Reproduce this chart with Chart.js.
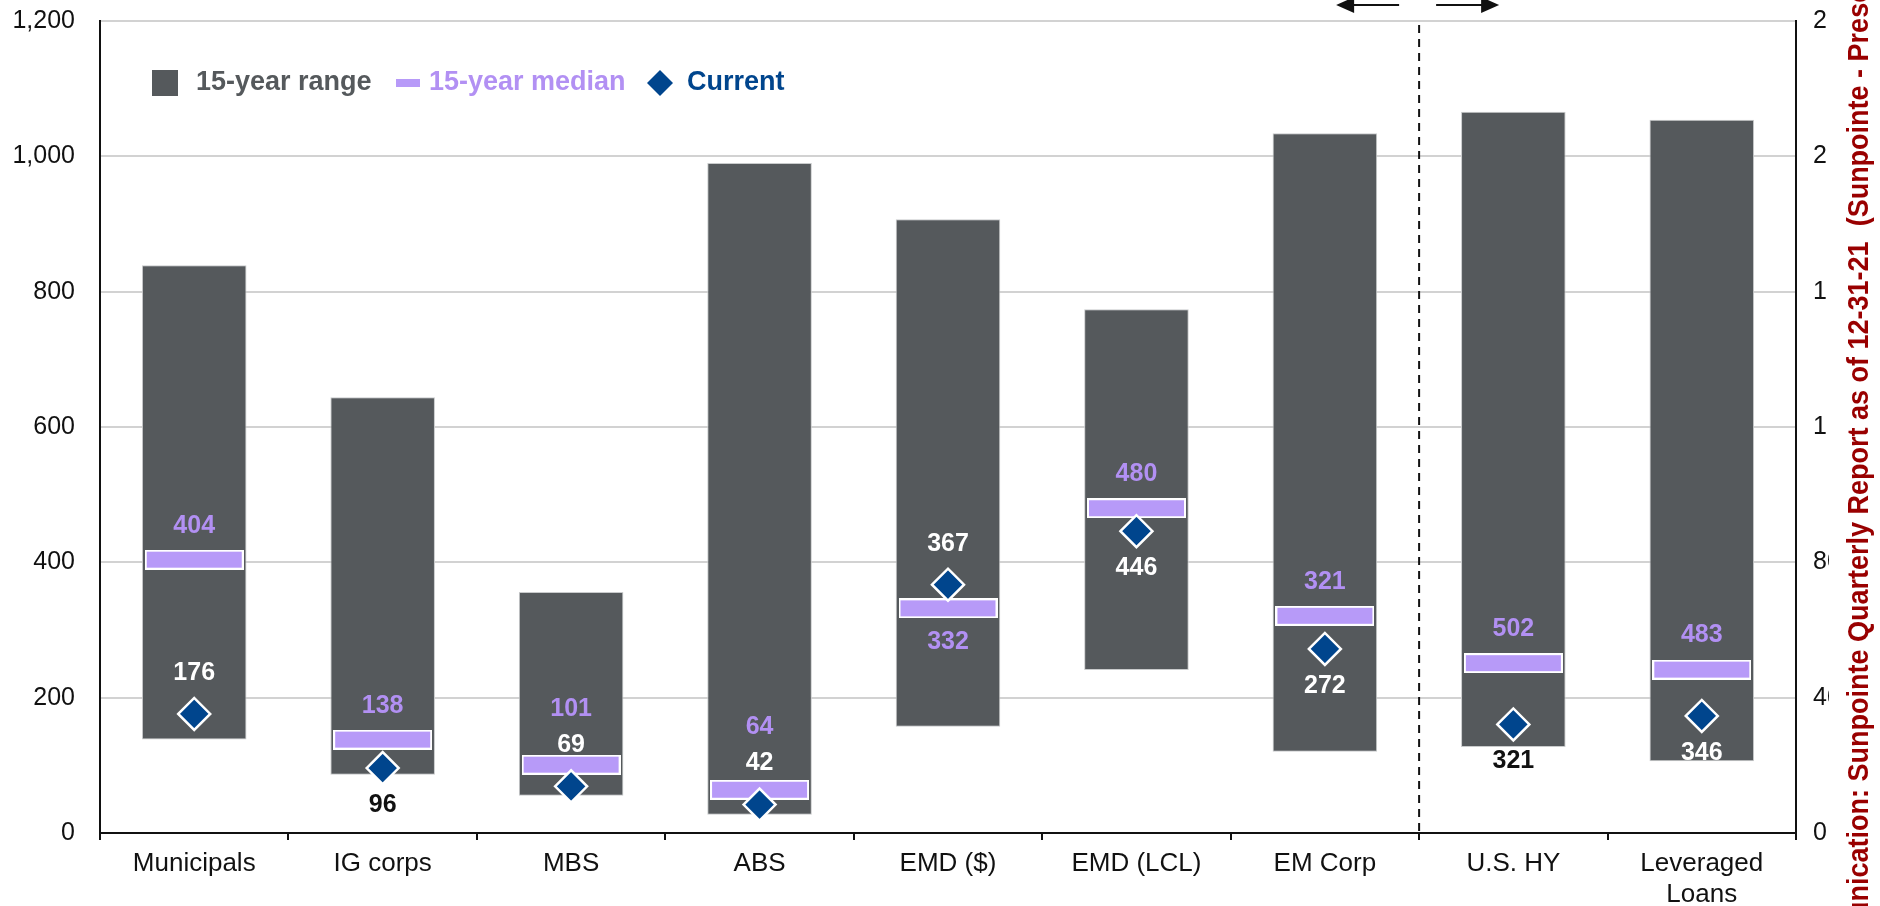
<!DOCTYPE html>
<html>
<head>
<meta charset="utf-8">
<script src="https://cdn.jsdelivr.net/npm/chart.js@4.4.0/dist/chart.umd.min.js"></script>
<style>
  html, body { margin: 0; padding: 0; background: #fff; }
  #wrap { width: 1880px; height: 906px; position: relative; }
</style>
</head>
<body>
<div id="wrap"><canvas id="spreadChart"></canvas></div>
<script>
// spreads by sector, bps (last two sectors use the right-hand axis)
const categories = ['Municipals', 'IG corps', 'MBS', 'ABS', 'EMD ($)', 'EMD (LCL)', 'EM Corp', 'U.S. HY', ['Leveraged', 'Loans']];
const rangeLow  = [138, 86, 55, 27, 157, 241, 120, 254, 212];
const rangeHigh = [839, 644, 356, 990, 907, 774, 1034, 2132, 2108];
const median15  = [404, 138, 101, 64, 332, 480, 321, 502, 483];
const current   = [176, 96, 69, 42, 367, 446, 272, 321, 346];
const onRightAxis = [false, false, false, false, false, false, false, true, true];
// where the "current" label sits relative to the diamond
const currentLabelSide = ['above', 'below', 'above', 'above', 'above', 'below', 'below', 'below', 'below'];

const GRAY = '#55595c';
const LAVENDER = '#b79af8';
const LAV_TEXT = '#b290f3';
const NAVY = '#00458d';
const FONT = "'Liberation Sans', Arial, sans-serif";

function pick(arr, right) {
  return arr.map((v, i) => (onRightAxis[i] === right ? v : null));
}
function pickRange(right) {
  return rangeLow.map((lo, i) => (onRightAxis[i] === right ? [lo, rangeHigh[i]] : null));
}

// median marker: lavender bar with white edge
function medianMarker(w, h) {
  const c = document.createElement('canvas');
  c.width = w; c.height = h;
  const g = c.getContext('2d');
  g.fillStyle = '#ffffff';
  g.fillRect(0, 0, w, h);
  g.fillStyle = LAVENDER;
  g.fillRect(2, 2, w - 4, h - 4);
  return c;
}
const medImg = medianMarker(99, 20);

const barStyle = {
  type: 'bar',
  backgroundColor: GRAY,
  borderColor: '#c9cbcc',
  borderWidth: 1,
  borderSkipped: false,
  grouped: false,
  categoryPercentage: 1,
  barPercentage: 0.555,
  order: 3
};
const medStyle = {
  type: 'line',
  showLine: false,
  pointStyle: medImg,
  pointRadius: 10,
  order: 2
};
const curStyle = {
  type: 'line',
  showLine: false,
  pointStyle: 'rectRot',
  pointRadius: 16,
  backgroundColor: NAVY,
  borderColor: '#ffffff',
  borderWidth: 2.5,
  order: 1
};

// labels, legend, divider, arrows and side note
const decorPlugin = {
  id: 'decor',
  afterDatasetsDraw(chart) {
    const ctx = chart.ctx;
    ctx.save();
    ctx.font = 'bold 25px ' + FONT;
    ctx.textAlign = 'center';
    ctx.textBaseline = 'middle';
    for (let i = 0; i < categories.length; i++) {
      const r = onRightAxis[i];
      const bar = chart.getDatasetMeta(r ? 1 : 0).data[i];
      const med = chart.getDatasetMeta(r ? 3 : 2).data[i];
      const cur = chart.getDatasetMeta(r ? 5 : 4).data[i];
      const barTop = Math.min(bar.y, bar.base), barBot = Math.max(bar.y, bar.base);

      let curY = currentLabelSide[i] === 'above' ? cur.y - 41 : cur.y + 37;
      let medY;
      if (current[i] > median15[i]) {
        medY = med.y + 34;
      } else {
        medY = med.y - 34;
        if (currentLabelSide[i] === 'above' && medY > curY - 36) medY = curY - 36;
      }
      ctx.fillStyle = LAV_TEXT;
      ctx.fillText(String(median15[i]), med.x, medY);
      ctx.fillStyle = (curY > barTop && curY < barBot) ? '#ffffff' : '#111111';
      ctx.fillText(String(current[i]), cur.x, curY);
    }
    ctx.restore();
  },
  afterDraw(chart) {
    const ctx = chart.ctx;
    const area = chart.chartArea;
    const x = chart.scales.x;
    const div = (x.getPixelForValue(6) + x.getPixelForValue(7)) / 2;

    ctx.save();
    // dashed divider between EM and HY sectors
    ctx.strokeStyle = '#111';
    ctx.lineWidth = 2;
    ctx.setLineDash([8, 6]);
    ctx.beginPath();
    ctx.moveTo(div, area.top + 4);
    ctx.lineTo(div, area.bottom);
    ctx.stroke();
    ctx.setLineDash([]);

    // arrows above the plot
    ctx.fillStyle = '#111';
    ctx.beginPath();
    ctx.moveTo(div - 20, 5); ctx.lineTo(div - 66, 5); ctx.stroke();
    ctx.beginPath();
    ctx.moveTo(div - 83, 5); ctx.lineTo(div - 65, -3); ctx.lineTo(div - 65, 13); ctx.closePath(); ctx.fill();
    ctx.beginPath();
    ctx.moveTo(div + 17, 5); ctx.lineTo(div + 63, 5); ctx.stroke();
    ctx.beginPath();
    ctx.moveTo(div + 80, 5); ctx.lineTo(div + 62, -3); ctx.lineTo(div + 62, 13); ctx.closePath(); ctx.fill();

    // legend
    const ly = 83;
    ctx.font = 'bold 27px ' + FONT;
    ctx.textBaseline = 'middle';
    ctx.textAlign = 'left';
    ctx.fillStyle = GRAY;
    ctx.fillRect(152, ly - 13, 26, 26);
    ctx.fillText('15-year range', 196, ly);
    ctx.fillStyle = LAVENDER;
    ctx.fillRect(396, ly - 4, 24, 8);
    ctx.fillStyle = LAV_TEXT;
    ctx.fillText('15-year median', 429, ly);
    ctx.fillStyle = NAVY;
    ctx.beginPath();
    ctx.moveTo(647, ly); ctx.lineTo(660, ly - 13); ctx.lineTo(673, ly); ctx.lineTo(660, ly + 13);
    ctx.closePath(); ctx.fill();
    ctx.fillText('Current', 687, ly);

    // side note, cut off at the page edge
    ctx.fillStyle = '#ffffff';
    ctx.fillRect(1829, 0, 51, chart.height);
    ctx.translate(1868, 789);
    ctx.rotate(-Math.PI / 2);
    ctx.scale(0.9, 1);
    ctx.font = 'bold 30px ' + FONT;
    ctx.fillStyle = '#990000';
    ctx.textBaseline = 'alphabetic';
    ctx.textAlign = 'right';
    ctx.fillText('Communication:', 0, 0);
    ctx.textAlign = 'left';
    ctx.fillText(' Sunpointe Quarterly Report as of 12-31-21  (Sunpointe - Presentation)', 0, 0);
    ctx.restore();
  }
};

const ctx = document.getElementById('spreadChart').getContext('2d');
const spreadChart = new Chart(ctx, {
  type: 'bar',
  data: {
    labels: categories,
    datasets: [
      Object.assign({ label: '15-year range', data: pickRange(false), yAxisID: 'y' }, barStyle),
      Object.assign({ label: '15-year range', data: pickRange(true), yAxisID: 'y2' }, barStyle),
      Object.assign({ label: '15-year median', data: pick(median15, false), yAxisID: 'y' }, medStyle),
      Object.assign({ label: '15-year median', data: pick(median15, true), yAxisID: 'y2' }, medStyle),
      Object.assign({ label: 'Current', data: pick(current, false), yAxisID: 'y' }, curStyle),
      Object.assign({ label: 'Current', data: pick(current, true), yAxisID: 'y2' }, curStyle)
    ]
  },
  options: {
    responsive: true,
    maintainAspectRatio: false,
    animation: false,
    layout: { padding: { top: 21, left: 0, right: 0, bottom: 0 } },
    plugins: {
      legend: { display: false },
      tooltip: { enabled: false }
    },
    scales: {
      x: {
        offset: true,
        grid: { offset: true, drawOnChartArea: false, drawTicks: true, tickLength: 7, color: '#111', lineWidth: 2 },
        border: { color: '#111', width: 2 },
        ticks: { color: '#111', font: { family: FONT, size: 26 }, padding: 8, maxRotation: 0, autoSkip: false },
        afterFit(s) { s.height = 73; }
      },
      y: {
        min: 0,
        max: 1200,
        ticks: { stepSize: 200, color: '#111', font: { family: FONT, size: 25 }, padding: 0 },
        // invisible tick marks give the gap between labels and axis
        grid: { color: '#d2d2d2', lineWidth: 2, drawTicks: true, tickLength: 25, tickColor: 'rgba(0,0,0,0)' },
        border: { color: '#111', width: 2 },
        afterFit(s) { s.width = 100; }
      },
      y2: {
        position: 'right',
        min: 0,
        max: 2400,
        ticks: { stepSize: 400, color: '#111', font: { family: FONT, size: 25 }, padding: 0 },
        grid: { drawOnChartArea: false, drawTicks: true, tickLength: 17, tickColor: 'rgba(0,0,0,0)' },
        border: { color: '#111', width: 2 },
        afterFit(s) { s.width = 84; }
      }
    }
  },
  plugins: [decorPlugin]
});
</script>
</body>
</html>
